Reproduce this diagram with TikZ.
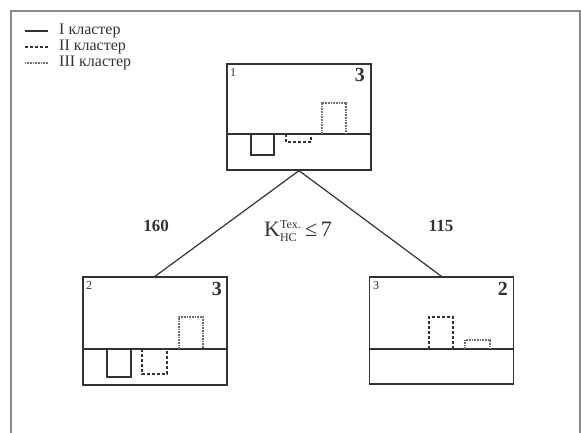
\documentclass[tikz,border=0pt]{standalone}
\usepackage{fontspec}
\usepackage{amsmath}
\setmainfont{Liberation Serif}
\definecolor{ink}{HTML}{333333}
\definecolor{frame}{HTML}{8A8A8A}
\begin{document}
\begin{tikzpicture}[x=1pt,y=-1pt,
  box/.style={draw=ink,line width=1.3pt,minimum width=144pt,inner sep=0pt},
  solidc/.style={draw=ink,line width=1.2pt},
  dashc/.style={draw=ink,line width=1.2pt,dash pattern=on 3pt off 2pt},
  dotc/.style={draw=ink!70,line width=1.2pt,dash pattern=on 0.8pt off 0.8pt},
  conn/.style={draw=ink,line width=1.2pt},
  leg/.style={anchor=west,inner sep=0pt,font=\fontsize{16}{16}\selectfont,text=ink},
  idx/.style={anchor=north west,inner sep=0pt,font=\fontsize{12}{12}\selectfont,text=ink},
  cnt/.style={anchor=north east,inner sep=0pt,font=\fontsize{20}{20}\selectfont\bfseries,text=ink},
  num/.style={inner sep=0pt,font=\fontsize{17}{17}\selectfont\bfseries,text=ink}]
\useasboundingbox (0,0) rectangle (581,432);
\draw[frame,line width=1.2pt] (11,445) -- (11,11) -- (580,11) -- (580,445);
% legend
\coordinate (l1a) at (25,31); \coordinate (l1b) at (48,31);
\coordinate (l2a) at (25,47); \coordinate (l2b) at (48,47);
\coordinate (l3a) at (25,63); \coordinate (l3b) at (48,63);
\draw[solidc] (l1a) -- (l1b);
\draw[dashc] (l2a) -- (l2b);
\draw[dotc] (l3a) -- (l3b);
\node[leg] (t1) at (59,31) {I кластер};
\node[leg] (t2) at (59,47) {II кластер};
\node[leg] (t3) at (59,63) {III кластер};
% boxes
\node[box,minimum height=106pt] (b1) at (299,117) {};
\node[box,minimum height=108pt] (b2) at (155,331) {};
\node[box,minimum height=107pt] (b3) at (441.5,330.5) {};
% dividers
\draw[solidc,line width=1.3pt] (227,134) -- (371,134);
\draw[solidc,line width=1.3pt] (83,349) -- (227,349);
\draw[solidc,line width=1.3pt] (370,349) -- (513,349);
% top box contents
\draw[solidc] (251,134) -- (251,155) -- (274,155) -- (274,134);
\draw[dashc] (286,134) -- (286,142) -- (311,142) -- (311,134);
\draw[dotc] (322,134) -- (322,103) -- (346,103) -- (346,134);
\node[idx] (n1) at (230,68) {1};
\node[cnt] (c1) at (365,68) {3};
% bottom-left contents
\draw[solidc] (107,349) -- (107,377) -- (131,377) -- (131,349);
\draw[dashc] (142,349) -- (142,374) -- (167,374) -- (167,349);
\draw[dotc] (179,349) -- (179,317) -- (203,317) -- (203,349);
\node[idx] (n2) at (86,281) {2};
\node[cnt] (c2) at (222,282) {3};
% bottom-right contents
\draw[dashc] (429,349) -- (429,317) -- (453,317) -- (453,349);
\draw[dotc] (465,349) -- (465,340) -- (490,340) -- (490,349);
\node[idx] (n3) at (373,281) {3};
\node[cnt] (c3) at (508,282) {2};
% connectors
\draw[conn] (b1.south) -- (b2.north);
\draw[conn] (b1.south) -- (b3.north);
\node[num] (w1) at (156,226) {160};
\node[num] (w2) at (441,226) {115};
\node[inner sep=0pt,text=ink,font=\fontsize{22}{22}\selectfont] (k) at (298,231)
  {K$^{\text{\fontsize{12}{12}\selectfont Tex.}}_{\text{\fontsize{12}{12}\selectfont HC}}$\,≤\,7};
\end{tikzpicture}
\end{document}
